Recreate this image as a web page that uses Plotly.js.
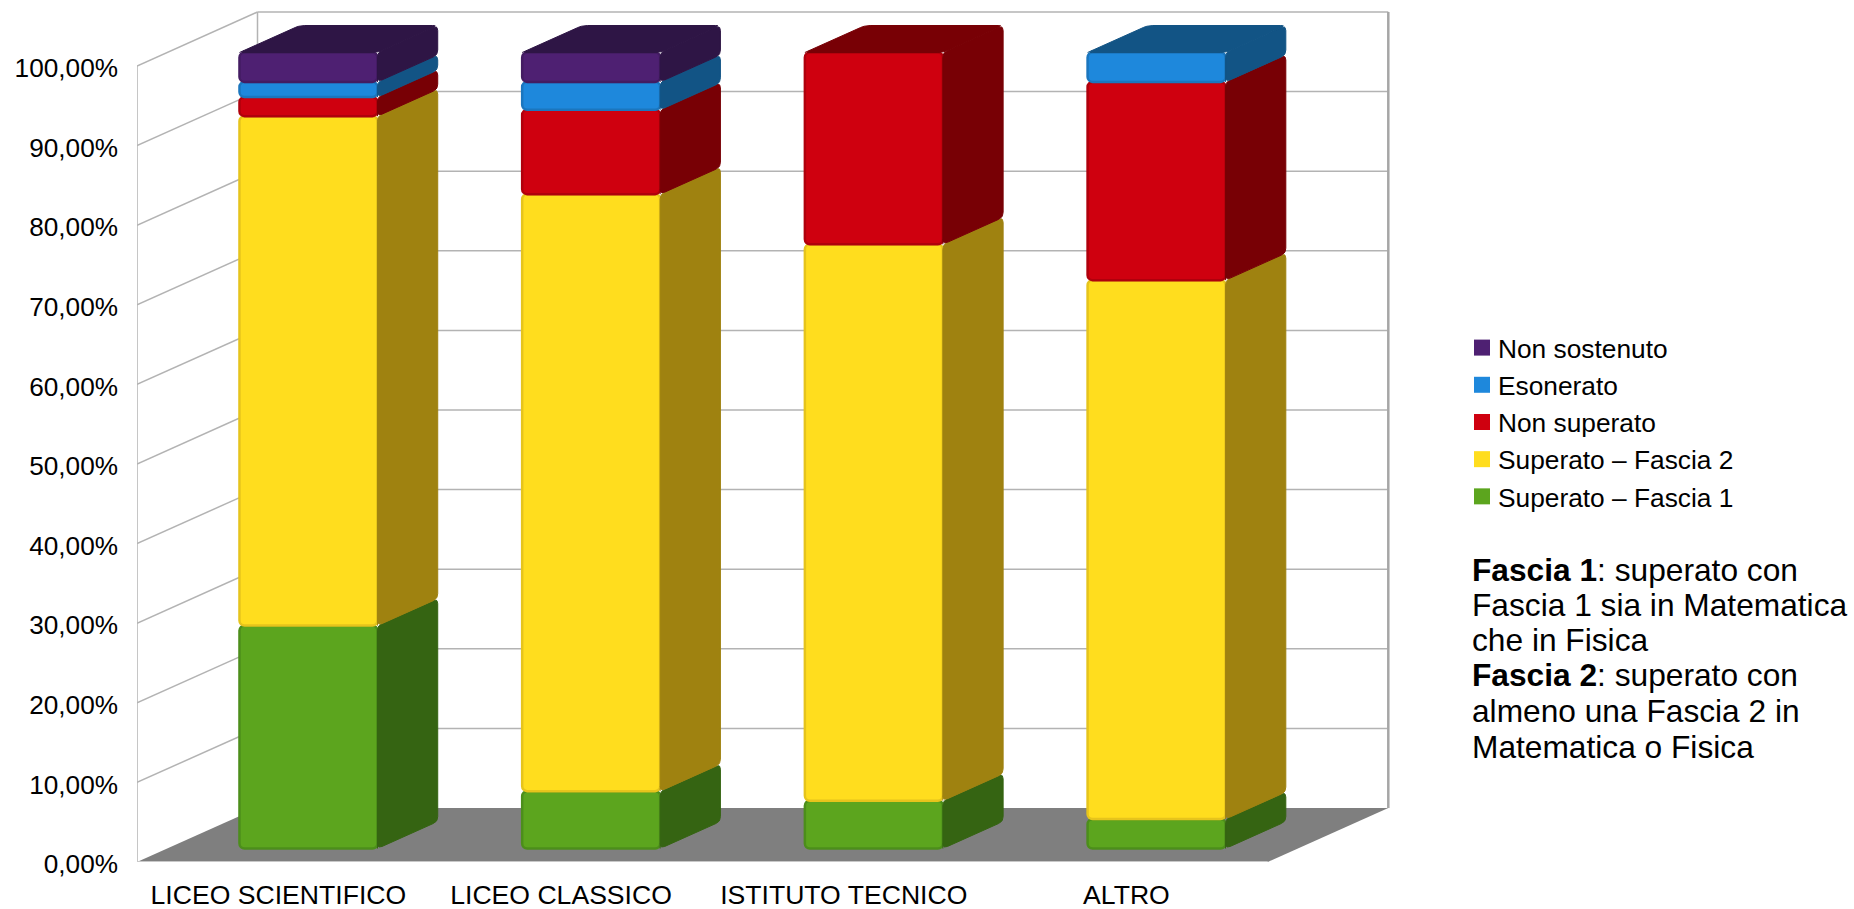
<!DOCTYPE html>
<html><head><meta charset="utf-8">
<script src="https://cdn.plot.ly/plotly-3.0.1.min.js"></script>
<style>html,body{margin:0;padding:0;background:#fff}#c{width:1854px;height:909px}</style>
</head><body><div id="c"></div>
<script>
const categories = ['LICEO SCIENTIFICO','LICEO CLASSICO','ISTITUTO TECNICO','ALTRO'];
const fascia1     = [28, 7.2, 6, 3.7];
const fascia2     = [64, 75, 69.9, 67.7];
const nonSuperato = [2.4, 10.6, 24.1, 24.9];
const esonerato   = [1.9, 3.5, null, 3.7];
const nonSostenuto= [3.7, 3.7, null, null];
const seriesNames = ['Superato – Fascia 1','Superato – Fascia 2','Non superato','Esonerato','Non sostenuto'];
const seriesValues = [fascia1, fascia2, nonSuperato, esonerato, nonSostenuto];
const frontColors = ['#5CA51E','#FFDD1E','#CF000F','#1E88DC','#4E2072'];
const sideColors  = ['#356412','#9F8210','#780005','#125485','#2E1545'];
const edgeColors  = ['#4C8E1B','#E6C41C','#B0000C','#1B76BE','#431C62'];
const yTicks = [0,10,20,30,40,50,60,70,80,90,100];
const noteLines = ['<b>Fascia 1</b>: superato con','Fascia 1 sia in Matematica','che in Fisica','<b>Fascia 2</b>: superato con','almeno una Fascia 2 in','Matematica o Fisica'];
const noteY = [570, 604.5, 639.5, 675, 710.5, 746.5];

// geometry
const W=1854,H=909,L=137,R=1400,B=862;
const PXX=282.7, PXY=7.96;          // pixels per category / per 1%
const DX=120.5/PXX, DY=54/PXY;      // depth vector of the floor
const barW=138/PXX, dF=0.25, dB=0.75, RAD=5;
const FONT='"Liberation Sans", Arial, sans-serif';

function roundPoly(pts,r){
  const out=[],n=pts.length;
  for(let i=0;i<n;i++){
    const p=pts[i],a=pts[(i+n-1)%n],b=pts[(i+1)%n];
    const v=(q)=>{const dx=(q[0]-p[0])*PXX,dy=(q[1]-p[1])*PXY,l=Math.hypot(dx,dy)||1,k=Math.min(r,l/2)/l;return [p[0]+(q[0]-p[0])*k,p[1]+(q[1]-p[1])*k];};
    const s=v(a),e=v(b);
    for(let t=0;t<=1.001;t+=0.2){
      const u=1-t;
      out.push([u*u*s[0]+2*u*t*p[0]+t*t*e[0],u*u*s[1]+2*u*t*p[1]+t*t*e[1]]);
    }
  }
  return out;
}
function addPoly(tr,pts){roundPoly(pts,RAD).forEach(q=>{tr.x.push(q[0]);tr.y.push(q[1]);});tr.x.push(pts[0][0],null);tr.y.push(pts[0][1],null);}

const traces=[];
const cum=[0,0,0,0];
const tops=[null,null,null,null];
seriesNames.forEach((name,s)=>{
  const vals=seriesValues[s];
  const xs=[],ys=[],bases=[];
  const side={type:'scatter',mode:'lines',x:[],y:[],fill:'toself',fillcolor:sideColors[s],line:{color:sideColors[s],width:1},showlegend:false,hoverinfo:'skip'};
  vals.forEach((v,i)=>{
    if(v==null) return;
    const c=i+0.5+dF*DX;
    xs.push(c);ys.push(v);bases.push(cum[i]+dF*DY);
    const xr=c+barW/2,a=cum[i],b=cum[i]+v,d=(dB-dF);
    addPoly(side,[[xr,a+dF*DY],[xr+d*DX,a+dB*DY],[xr+d*DX,b+dB*DY],[xr,b+dF*DY]]);
    cum[i]=b;tops[i]=s;
  });
  traces.push({type:'bar',name:name,x:xs,y:ys,base:bases,width:barW,showlegend:false,
    marker:{color:frontColors[s],cornerradius:RAD,line:{color:edgeColors[s],width:2.5}},hoverinfo:'y'});
  traces.push(side);
});
// stack tops
categories.forEach((cat,i)=>{
  const s=tops[i],c=i+0.5+dF*DX,xl=c-barW/2,xr=c+barW/2,v=cum[i],d=dB-dF;
  const t={type:'scatter',mode:'lines',x:[],y:[],fill:'toself',fillcolor:sideColors[s],line:{color:sideColors[s],width:1},showlegend:false,hoverinfo:'skip'};
  addPoly(t,[[xl,v+dF*DY],[xr,v+dF*DY],[xr+d*DX,v+dB*DY],[xl+d*DX,v+dB*DY]]);
  traces.push(t);
});
// legend keys, top of the stack first
seriesNames.map((n,s)=>s).reverse().forEach(s=>{
  traces.push({type:'scatter',mode:'markers',name:seriesNames[s],x:[null],y:[null],legendgroup:'g'+s,
    marker:{symbol:'square',size:16,color:frontColors[s],line:{width:0}},hoverinfo:'skip'});
});

// walls and floor
const xEnd=categories.length;
const gridC='#B3B3B3';
const shapes=[];
const ln=(x0,y0,x1,y1,w,col)=>shapes.push({type:'line',layer:'below',xref:'x',yref:'y',x0,y0,x1,y1,line:{color:col||gridC,width:w||1.5}});
yTicks.forEach(v=>{
  if(v>0) ln(0,v,DX,v+DY);
  if(v>0) ln(DX,v+DY,xEnd+DX,v+DY);
});
shapes.push({type:'path',layer:'below',xref:'x',yref:'y',
  path:`M0,0 L${xEnd},0 L${xEnd+DX},${DY} L${DX},${DY} Z`,fillcolor:'#7F7F7F',line:{width:0}});
ln(0,0,0,100);
ln(DX,DY,DX,100+DY);
ln(xEnd+DX,DY,xEnd+DX,100+DY,2.5,'#A6A6A6');
ln(0,0,xEnd,0,2,'#C8C8C8');

const annotations=noteLines.map((t,i)=>({xref:'paper',yref:'paper',x:(1470-L)/(R-L),y:(B-noteY[i])/B,xanchor:'left',yanchor:'middle',
  text:t,showarrow:false,align:'left',borderpad:1,font:{family:FONT,size:31.7,color:'#000'}}));

const layout={
  width:W,height:H,margin:{l:L,r:W-R,t:0,b:H-B,pad:0},autosize:false,
  paper_bgcolor:'#fff',plot_bgcolor:'#fff',barmode:'overlay',separators:',.',
  xaxis:{range:[0,(R-L)/PXX],tickmode:'array',tickvals:categories.map((c,i)=>i+0.5),ticktext:categories,
    showgrid:false,zeroline:false,showline:false,ticks:'',ticklabelstandoff:14,automargin:false,
    tickfont:{family:FONT,size:26.6,color:'#000'},fixedrange:true},
  yaxis:{range:[0,B/PXY],tickmode:'linear',tick0:0,dtick:10,tickformat:'.2f',ticksuffix:'%',showticksuffix:'all',
    showgrid:false,zeroline:false,showline:false,ticks:'',ticklabelstandoff:18,ticklabelshift:2,automargin:false,
    tickfont:{family:FONT,size:26.2,color:'#000'},fixedrange:true},
  legend:{x:(1458-L)/(R-L),y:(B-324)/B,xanchor:'left',yanchor:'top',traceorder:'grouped',tracegroupgap:0,
    font:{family:FONT,size:26.3,color:'#000'},bgcolor:'rgba(0,0,0,0)',borderwidth:0},
  shapes,annotations,showlegend:true
};
Plotly.newPlot('c',traces,layout,{displayModeBar:false,staticPlot:true}).then(()=>{
  document.querySelectorAll('.legend .legendsymbols').forEach(e=>e.setAttribute('transform','translate(4,0)'));
});
</script></body></html>
